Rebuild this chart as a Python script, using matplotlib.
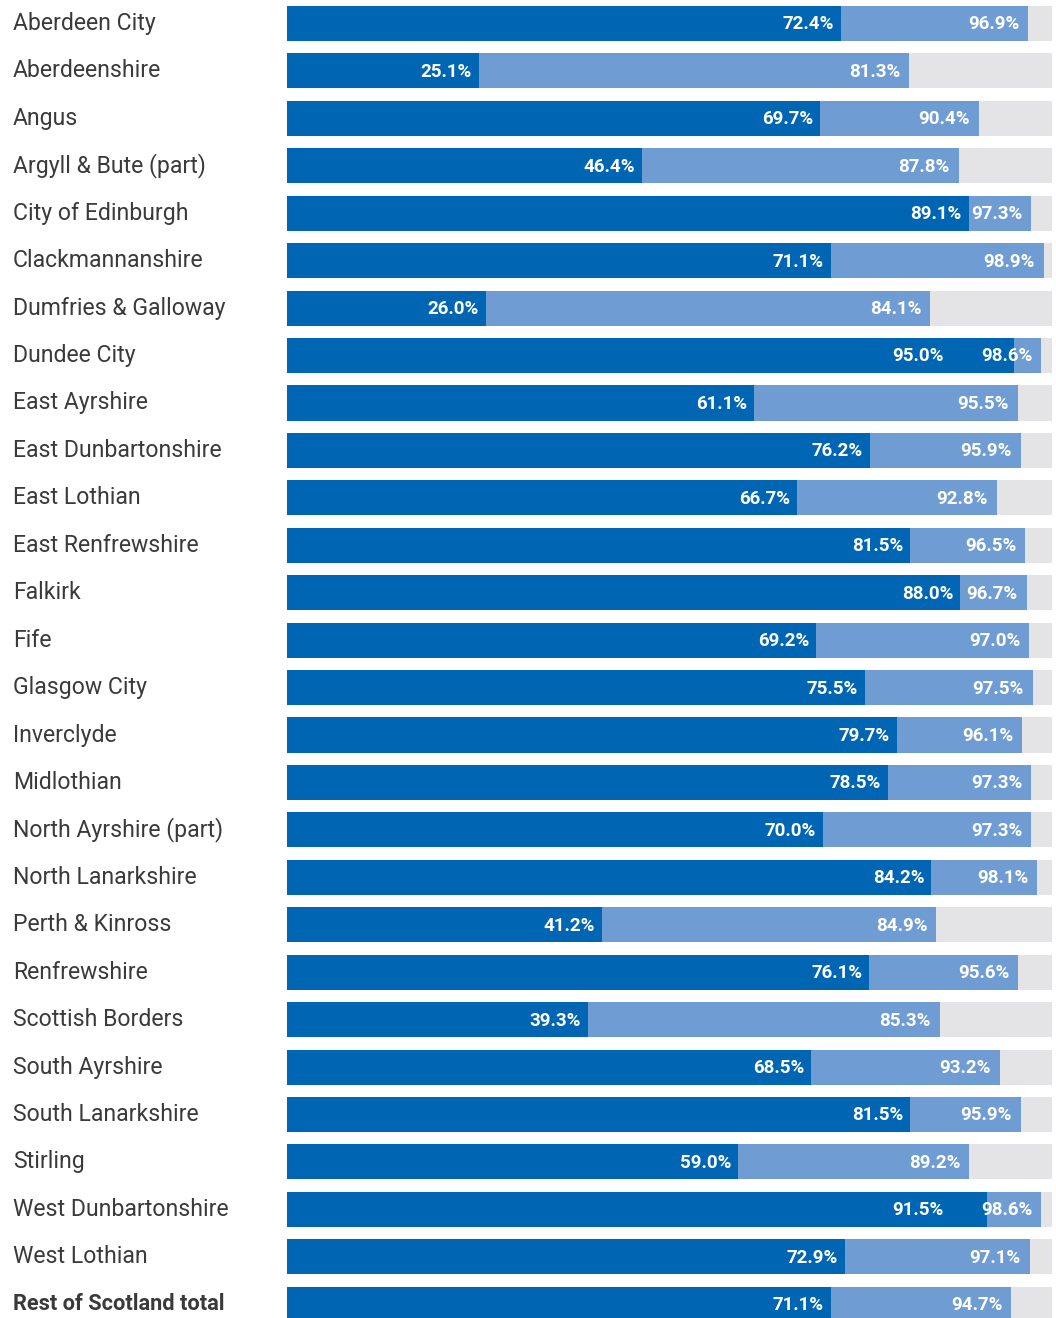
import matplotlib.pyplot as plt
from matplotlib.transforms import blended_transform_factory

areas = ['Aberdeen City', 'Aberdeenshire', 'Angus', 'Argyll & Bute (part)',
         'City of Edinburgh', 'Clackmannanshire', 'Dumfries & Galloway',
         'Dundee City', 'East Ayrshire', 'East Dunbartonshire', 'East Lothian',
         'East Renfrewshire', 'Falkirk', 'Fife', 'Glasgow City', 'Inverclyde',
         'Midlothian', 'North Ayrshire (part)', 'North Lanarkshire',
         'Perth & Kinross', 'Renfrewshire', 'Scottish Borders', 'South Ayrshire',
         'South Lanarkshire', 'Stirling', 'West Dunbartonshire', 'West Lothian',
         'Rest of Scotland total']
first_share = [72.4, 25.1, 69.7, 46.4, 89.1, 71.1, 26.0, 95.0, 61.1, 76.2, 66.7,
               81.5, 88.0, 69.2, 75.5, 79.7, 78.5, 70.0, 84.2, 41.2, 76.1, 39.3,
               68.5, 81.5, 59.0, 91.5, 72.9, 71.1]
total_share = [96.9, 81.3, 90.4, 87.8, 97.3, 98.9, 84.1, 98.6, 95.5, 95.9, 92.8,
               96.5, 96.7, 97.0, 97.5, 96.1, 97.3, 97.3, 98.1, 84.9, 95.6, 85.3,
               93.2, 95.9, 89.2, 98.6, 97.1, 94.7]

DARK = '#0066b3'
LIGHT = '#6f9dd3'
GREY = '#e4e4e6'
TEXT = '#3a3a3a'

fig = plt.figure(figsize=(10.56, 13.18), dpi=100)
ax = fig.add_axes([287 / 1056, 0, 765 / 1056, 1])

ys = range(len(areas))
h = 0.74
ax.barh(ys, [100] * len(areas), height=h, color=GREY, linewidth=0)
ax.barh(ys, total_share, height=h, color=LIGHT, linewidth=0)
ax.barh(ys, first_share, height=h, color=DARK, linewidth=0)

ax.set_xlim(0, 100)
ax.set_ylim(27.29, -0.495)
ax.axis('off')

# 1 data unit on x is 7.65 px
px = 1 / 7.65
pad_dark = 7 * px
pad_light = 9 * px
label_w = 53 * px

lab_tr = blended_transform_factory(fig.transFigure, ax.transData)
for i, name in enumerate(areas):
    bold = name == 'Rest of Scotland total'
    ax.text(13 / 1056, i, name, transform=lab_tr, ha='left', va='center',
            fontsize=15.7 if bold else 16.6, family='Roboto', color=TEXT,
            fontweight='bold' if bold else 'normal')

    x_light = total_share[i] - pad_light
    x_dark = first_share[i] - pad_dark
    # narrow light segment: move the first label clear of the second
    if total_share[i] - first_share[i] < 57 * px:
        x_dark = x_light - label_w - 36 * px
    ax.text(x_light, i + 0.02, f'{total_share[i]:.1f}%', ha='right', va='center',
            fontsize=13.5, family='Roboto', fontweight='bold', color='white')
    ax.text(x_dark, i + 0.02, f'{first_share[i]:.1f}%', ha='right', va='center',
            fontsize=13.5, family='Roboto', fontweight='bold', color='white')

fig.savefig('out.png', dpi=100)
